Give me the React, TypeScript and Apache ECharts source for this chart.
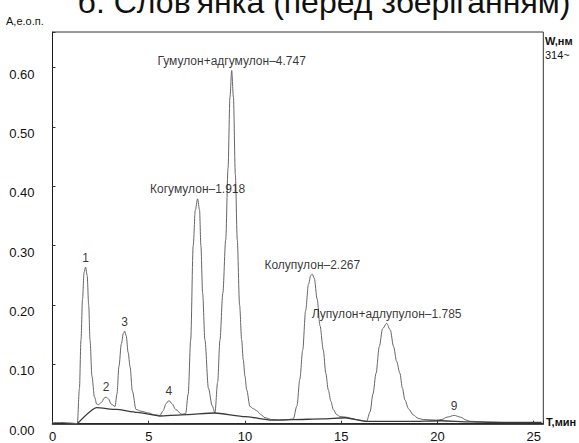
import React, { useEffect, useRef } from "react";
import * as echarts from "echarts";

const titleText = "б. Слов'янка (перед зберіганням)";
const yAxisTitle = "A,е.о.п.";
const xAxisTitle = "Т,мин";
const rightTitle1 = "W,нм";
const rightTitle2 = "314~";

// chromatogram signal (time, min ; absorbance)
const signalTimes = [
  0, 0.5, 1.0, 1.29, 1.4, 1.48, 1.56, 1.64, 1.72, 1.8, 1.88, 1.95, 2.05, 2.18, 2.3, 2.38,
  2.55, 2.68, 2.78, 2.9, 3.05, 3.25, 3.35, 3.45, 3.58, 3.68, 3.75, 3.83, 3.93, 4.03, 4.15,
  4.34, 4.6, 5.0, 5.3, 5.58, 5.75, 5.9, 6.05, 6.2, 6.4, 6.71, 6.92, 7.05, 7.18, 7.31, 7.42,
  7.54, 7.64, 7.71, 7.8, 7.92, 8.1, 8.3, 8.44, 8.58, 8.7, 8.85, 9.0, 9.12, 9.22, 9.31, 9.4,
  9.5, 9.6, 9.72, 9.83, 9.91, 10.0, 10.09, 10.26, 10.45, 10.61, 10.8, 11.04, 11.39, 12.0,
  12.51, 12.7, 12.85, 13.0, 13.15, 13.3, 13.42, 13.5, 13.6, 13.75, 13.9, 14.07, 14.2, 14.33,
  14.46, 14.59, 14.77, 14.94, 15.25, 15.6, 15.97, 16.32, 16.5, 16.65, 16.81, 16.98, 17.15,
  17.36, 17.55, 17.72, 17.88, 18.05, 18.18, 18.31, 18.5, 18.74, 19.0, 19.26, 19.96, 20.22,
  20.5, 20.87, 21.2, 21.5, 21.69, 22.5, 23.5, 24.5, 25.4,
];
const signalValues = [
  0.002, 0.002, 0.001, 0.0, 0.06, 0.141, 0.21, 0.255, 0.264, 0.25, 0.2, 0.141, 0.08, 0.045, 0.033, 0.032,
  0.036, 0.043, 0.045, 0.042, 0.033, 0.029, 0.05, 0.096, 0.135, 0.152, 0.156, 0.148, 0.12, 0.096, 0.055,
  0.024, 0.021, 0.018, 0.015, 0.014, 0.022, 0.034, 0.039, 0.034, 0.024, 0.016, 0.017, 0.05, 0.141, 0.3, 0.36,
  0.379, 0.36, 0.3, 0.22, 0.141, 0.06, 0.03, 0.018, 0.07, 0.141, 0.22, 0.31, 0.43, 0.55, 0.595, 0.55,
  0.42, 0.31, 0.2, 0.141, 0.108, 0.08, 0.057, 0.029, 0.025, 0.022, 0.016, 0.01, 0.007, 0.006,
  0.008, 0.03, 0.075, 0.124, 0.19, 0.235, 0.25, 0.252, 0.245, 0.21, 0.165, 0.124, 0.085, 0.057,
  0.038, 0.024, 0.015, 0.012, 0.011, 0.008, 0.006, 0.004, 0.02, 0.05, 0.085, 0.13, 0.16,
  0.169, 0.158, 0.13, 0.105, 0.085, 0.06, 0.04, 0.025, 0.015, 0.009, 0.007, 0.006, 0.007,
  0.011, 0.014, 0.011, 0.006, 0.004, 0.003, 0.002, 0.002, 0.002,
];

// integration baseline
const baselineTimes = [1.29, 2.3, 3.3, 4.4, 5.58, 6.71, 8.44, 10.0, 11.39, 12.51, 14.0, 15.2, 16.32, 18.5, 20.2, 21.7, 23.0, 25.4];
const baselineValues = [0, 0.027, 0.024, 0.019, 0.013, 0.015, 0.018, 0.012, 0.006, 0.007, 0.008, 0.01, 0.004, 0.004, 0.005, 0.003, 0.002, 0.002];

// peak annotations
const peakTimes = [1.72, 2.78, 3.75, 6.05, 7.54, 9.31, 13.5, 17.36, 20.87];
const peakHeights = [0.264, 0.045, 0.156, 0.039, 0.379, 0.595, 0.252, 0.169, 0.014];
const peakLabels = [
  "1",
  "2",
  "3",
  "4",
  "Когумулон–1.918",
  "Гумулон+адгумулон–4.747",
  "Колупулон–2.267",
  "Лупулон+адлупулон–1.785",
  "9",
];

const FONT = "'Liberation Sans', Arial, sans-serif";

export default function App() {
  const ref = useRef<HTMLDivElement>(null);
  useEffect(() => {
    if (!ref.current) return;
    const chart = echarts.init(ref.current, null, { renderer: "svg" });
    const option: any = {
      animation: false,
      backgroundColor: "#ffffff",
      textStyle: { fontFamily: FONT },
      grid: {
        left: 52.5,
        right: 35.7,
        top: 32,
        bottom: 19.3,
        show: true,
        borderColor: "#333",
        borderWidth: 1,
        containLabel: false,
        outerBoundsMode: "none",
      },
      xAxis: {
        type: "value",
        min: 0,
        max: 25.5,
        interval: 5,
        splitLine: { show: false },
        axisLine: { show: true, onZero: false, lineStyle: { color: "#1a1a1a", width: 1.6 } },
        axisTick: { show: true, inside: true, length: 3, lineStyle: { color: "#333" } },
        axisLabel: {
          margin: 6,
          fontSize: 13,
          color: "#111",
          fontFamily: FONT,
          formatter: (v: number) => (Math.abs(v % 5) < 1e-6 ? String(v) : ""),
        },
      },
      yAxis: {
        type: "value",
        min: 0,
        max: 0.66,
        interval: 0.1,
        splitLine: { show: false },
        axisLine: { show: true, lineStyle: { color: "#1a1a1a", width: 1 } },
        axisTick: { show: true, inside: true, length: 3, lineStyle: { color: "#333" } },
        axisLabel: {
          margin: 18,
          fontSize: 13,
          color: "#111",
          fontFamily: FONT,
          verticalAlign: "top",
          formatter: (v: number) => (v > 0.61 ? "" : v.toFixed(2)),
        },
      },
      series: [
        {
          type: "line",
          name: "signal",
          data: signalTimes.map((t, i) => [t, signalValues[i]]),
          showSymbol: false,
          smooth: 0.3,
          smoothMonotone: "x",
          lineStyle: { color: "#666", width: 1 },
          silent: true,
          z: 2,
        },
        {
          type: "line",
          name: "baseline",
          data: baselineTimes.map((t, i) => [t, baselineValues[i]]),
          showSymbol: false,
          smooth: 0.2,
          smoothMonotone: "x",
          lineStyle: { color: "#3a3a3a", width: 1.3 },
          silent: true,
          z: 3,
        },
        {
          type: "scatter",
          name: "peaks",
          data: peakTimes.map((t, i) => [t, peakHeights[i]]),
          symbolSize: 1,
          itemStyle: { color: "rgba(0,0,0,0)" },
          silent: true,
          label: {
            show: true,
            position: "top",
            distance: 3,
            fontSize: 12,
            color: "#000",
            fontFamily: FONT,
            formatter: (p: any) => peakLabels[p.dataIndex],
          },
          z: 4,
        },
      ],
      graphic: {
        elements: [
          {
            type: "text",
            x: 324,
            y: -14,
            style: {
              text: titleText,
              fontSize: 32,
              fontFamily: FONT,
              fill: "#111",
              align: "center",
              verticalAlign: "top",
            },
          },
          {
            type: "text",
            x: 6,
            y: 21,
            style: { text: yAxisTitle, fontSize: 11, fontFamily: FONT, fill: "#111", verticalAlign: "middle" },
          },
          {
            type: "text",
            x: 545,
            y: 41,
            style: { text: rightTitle1, fontSize: 11, fontWeight: "bold", fontFamily: FONT, fill: "#111", verticalAlign: "middle" },
          },
          {
            type: "text",
            x: 545,
            y: 55,
            style: { text: rightTitle2, fontSize: 11, fontFamily: FONT, fill: "#111", verticalAlign: "middle" },
          },
          {
            type: "text",
            x: 546,
            y: 422,
            style: { text: xAxisTitle, fontSize: 11, fontWeight: "bold", fontFamily: FONT, fill: "#111", verticalAlign: "middle" },
          },
        ],
      },
    };
    chart.setOption(option);
    return () => chart.dispose();
  }, []);
  return (
    <div
      ref={ref}
      style={{ position: "fixed", left: 0, top: 0, width: 579, height: 443, background: "#fff" }}
    />
  );
}
